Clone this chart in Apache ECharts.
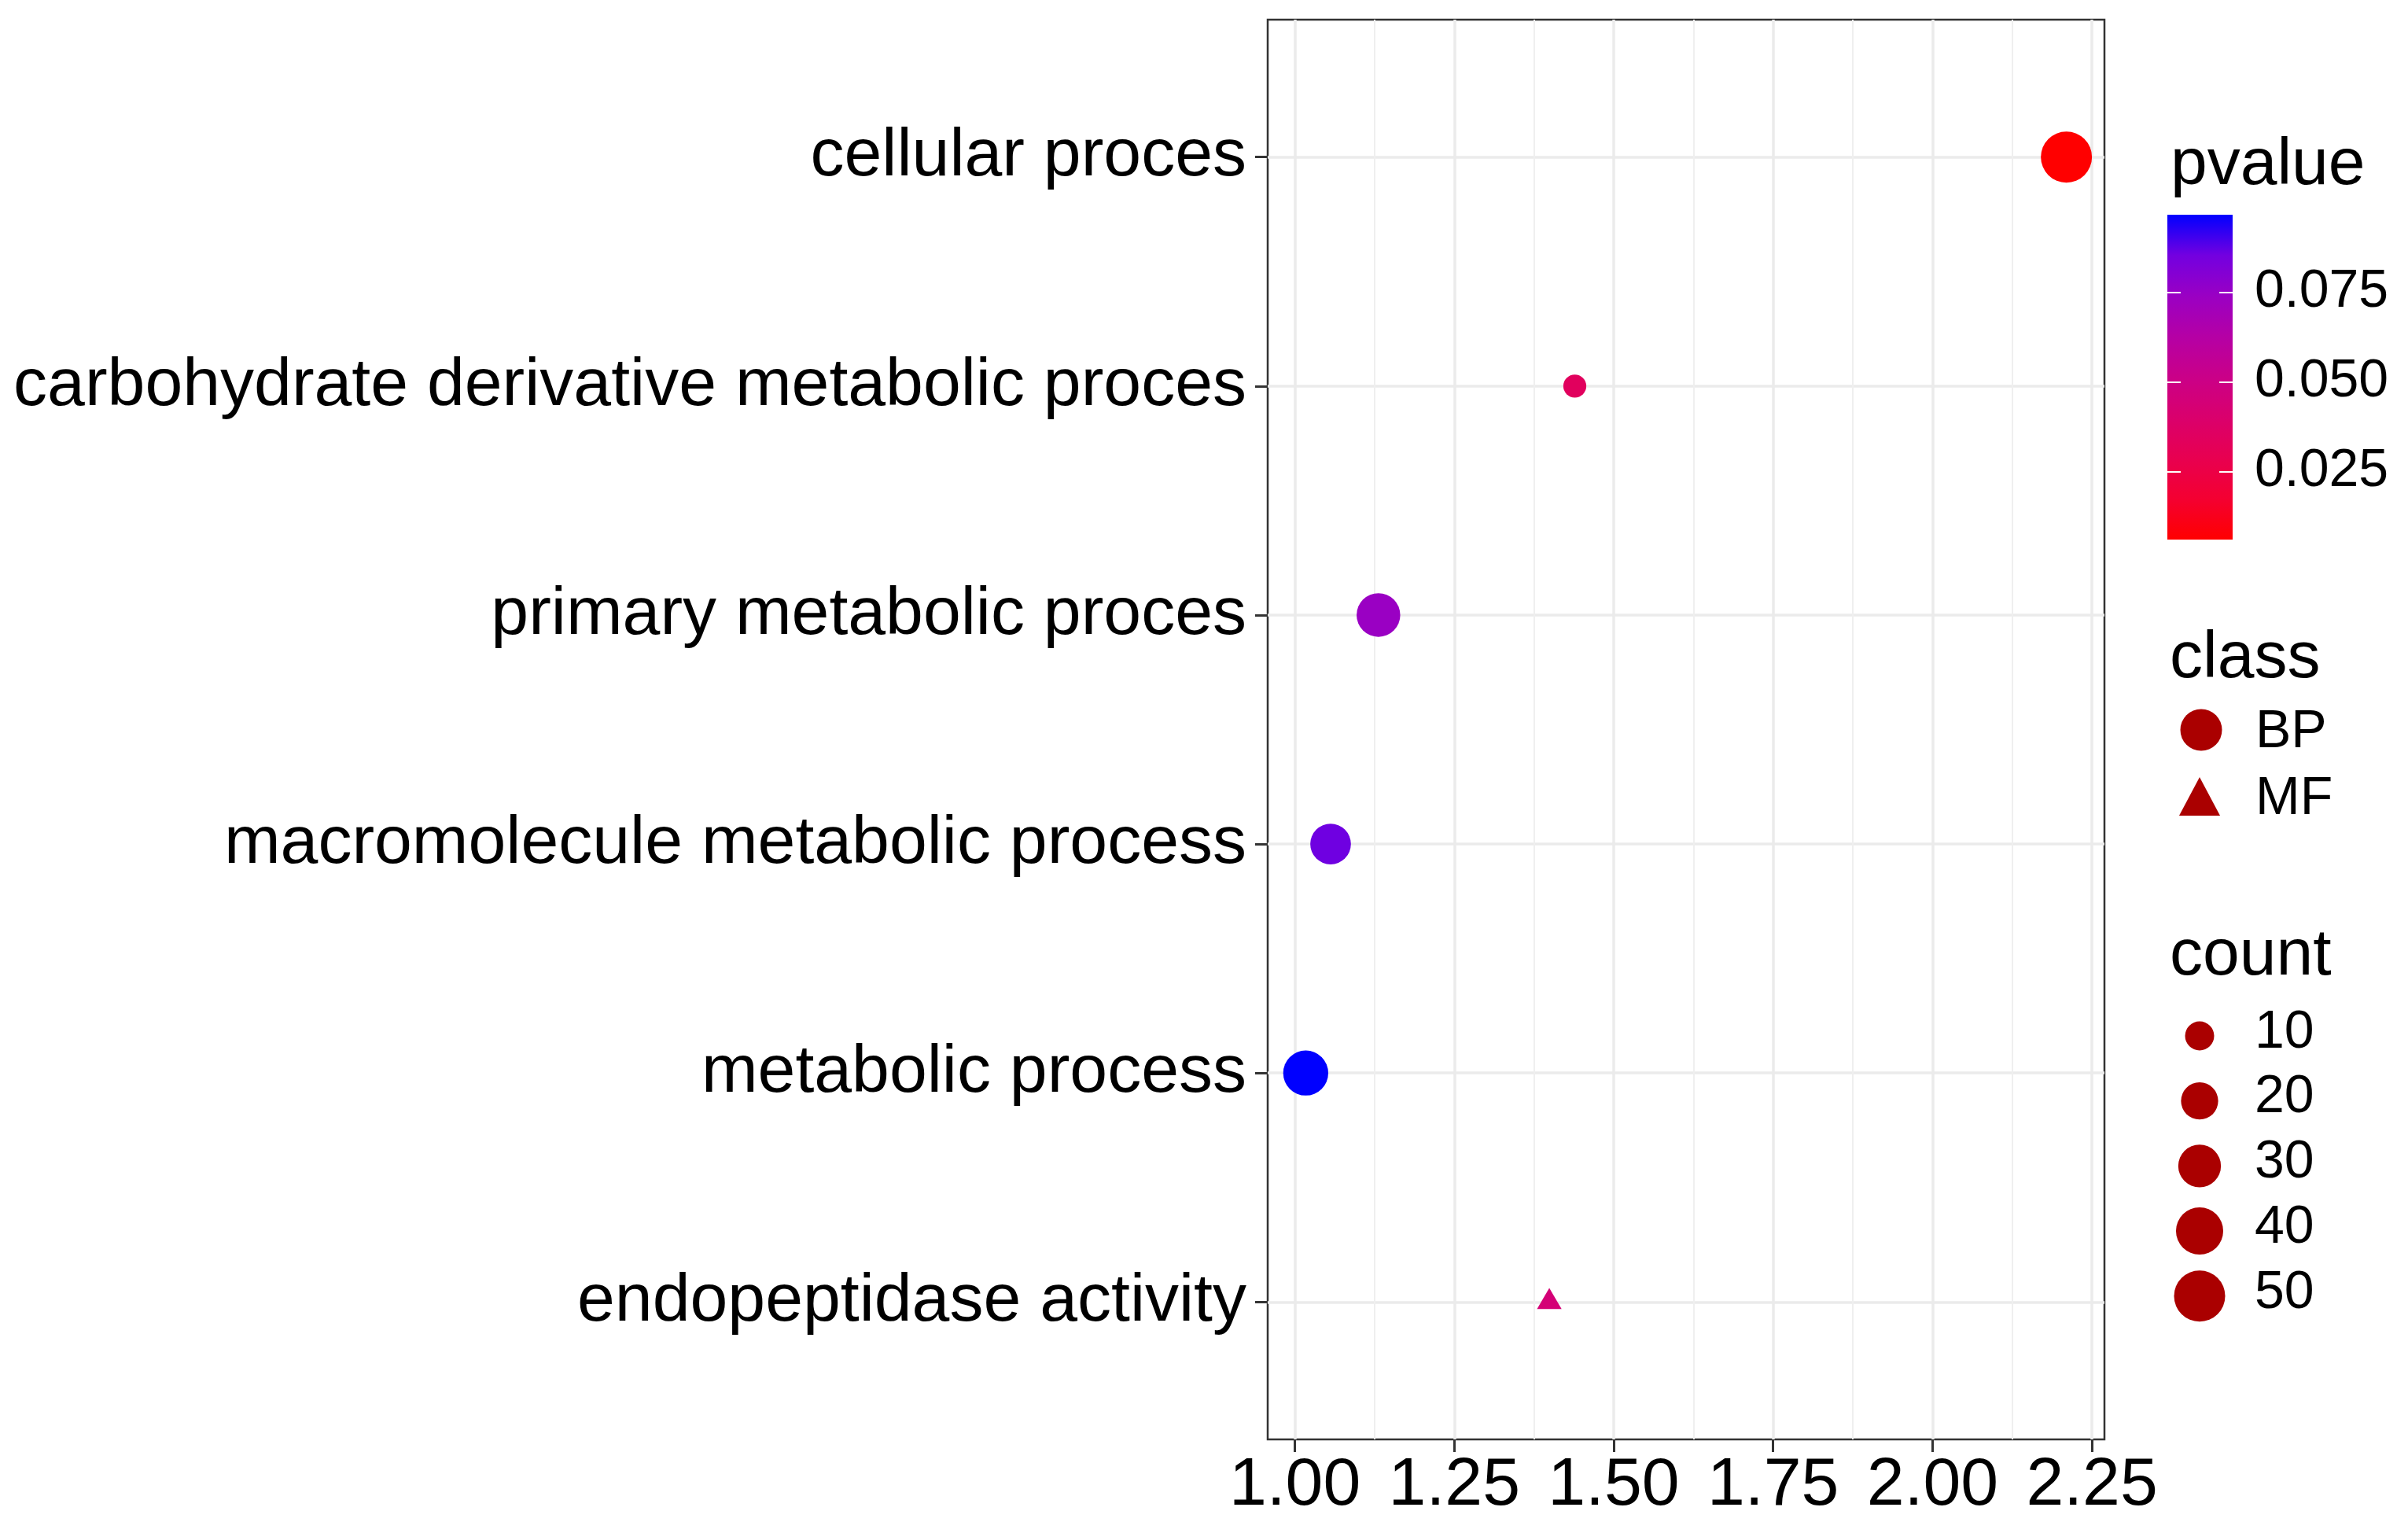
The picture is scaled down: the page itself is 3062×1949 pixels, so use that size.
<!DOCTYPE html>
<html><head><meta charset="utf-8">
<script src="https://cdn.jsdelivr.net/npm/echarts@6/dist/echarts.min.js"></script>
<style>html,body{margin:0;padding:0;background:#fff}#c{width:3062px;height:1949px}</style>
</head><body><div id="c"></div>
<script>
// ---- data ----
const categories = ['cellular proces','carbohydrate derivative metabolic proces','primary metabolic proces','macromolecule metabolic process','metabolic process','endopeptidase activity'];
const classes = ['BP','BP','BP','BP','BP','MF'];
const richFactor = [2.210, 1.439, 1.131, 1.056, 1.017, 1.399];
const counts = [50, 6, 32, 26, 35, 5];
const pvalues = [0.0060, 0.034, 0.074, 0.0857, 0.0966, 0.044];
const xTicks = [1.00, 1.25, 1.50, 1.75, 2.00, 2.25];
const xMinorTicks = [1.125, 1.375, 1.625, 1.875, 2.125];
const pTicks = [0.025, 0.050, 0.075];
const countBreaks = [10, 20, 30, 40, 50];
const classKeys = ['BP', 'MF'];

// ---- scales ----
const FONT = 'Liberation Sans';
const xLo = Math.min(...richFactor), xHi = Math.max(...richFactor);
const xMin = xLo - 0.05 * (xHi - xLo), xMax = xHi + 0.05 * (xHi - xLo);
const pMin = Math.min(...pvalues), pMax = Math.max(...pvalues);
const cMin = Math.min(...counts), cMax = Math.max(...counts);
const D_MIN = 23, D_MAX = 65;
function diam(c) { const t = Math.max(0, (c - cMin) / (cMax - cMin)); return D_MIN + (D_MAX - D_MIN) * Math.sqrt(t); }
// red -> blue gradient (CIELAB-like interpolation, sampled)
const gradColors = ['#FF0000','#F40031','#E80050','#DA006C','#CA0088','#B500A5','#9A00C3','#7300E0','#0000FF'];
const keyColor = '#AA0000';

const bpData = [], mfData = [];
categories.forEach((name, i) => {
  const item = [richFactor[i], i, counts[i], pvalues[i], name];
  (classes[i] === 'BP' ? bpData : mfData).push(item);
});
const yIdx = categories.map((_, i) => i);

const chart = echarts.init(document.getElementById('c'), null, {renderer: 'canvas'});

const G = {left: 1612, top: 25, width: 1064, height: 1805};
const CB = {left: 2756, top: 273, width: 83, height: 413};

const graphics = [];
function txt(x, y, s, size) {
  graphics.push({type: 'text', x: x, y: y, style: {text: s, fontSize: size, fontFamily: FONT, fill: '#000', align: 'left', verticalAlign: 'middle', textAlign: 'left', textVerticalAlign: 'middle'}});
}
txt(2760, 211, 'pvalue', 84);
txt(2759, 838, 'class', 84);
txt(2759, 1216, 'count', 84);
// class keys
graphics.push({type: 'circle', shape: {cx: 2799, cy: 928, r: 26.5}, style: {fill: keyColor}});
txt(2868, 931, classKeys[0], 68);
graphics.push({type: 'polygon', shape: {points: [[2797, 988], [2771, 1037], [2823, 1037]]}, style: {fill: keyColor}});
txt(2868, 1016, classKeys[1], 68);
// count keys
countBreaks.forEach((b, k) => {
  const cy = 1317 + 82.7 * k;
  graphics.push({type: 'circle', shape: {cx: 2797, cy: cy, r: diam(b) / 2}, style: {fill: keyColor}});
  txt(2867, cy - 4, String(b), 68);
});

const gradient = new echarts.graphic.LinearGradient(0, 1, 0, 0,
  gradColors.map((c, i) => ({offset: i / (gradColors.length - 1), color: c})));

const option = {
  animation: false,
  backgroundColor: '#ffffff',
  textStyle: {fontFamily: FONT},
  grid: [
    Object.assign({show: true, borderColor: '#333333', borderWidth: 2.5, backgroundColor: '#ffffff', containLabel: false}, G),
    Object.assign({show: true, borderWidth: 0, backgroundColor: gradient, containLabel: false}, CB)
  ],
  xAxis: [
    {type: 'value', gridIndex: 0, min: xMin, max: xMax, position: 'bottom',
     axisLine: {show: false, onZero: false},
     axisTick: {show: true, length: 16, lineStyle: {color: '#333333', width: 3}, customValues: xTicks},
     axisLabel: {show: true, customValues: xTicks, formatter: v => Number(v).toFixed(2), fontSize: 86, color: '#000', margin: 16, fontFamily: FONT},
     splitLine: {show: true, lineStyle: {color: '#EBEBEB', width: 3.5}}},
    {type: 'value', gridIndex: 0, min: xMin, max: xMax, position: 'top',
     axisLine: {show: false, onZero: false}, axisTick: {show: false, customValues: xMinorTicks}, axisLabel: {show: false, customValues: xMinorTicks},
     splitLine: {show: true, lineStyle: {color: '#EFEFEF', width: 2}}},
    {type: 'value', gridIndex: 1, show: false, min: 0, max: 1, axisLine: {onZero: false}}
  ],
  yAxis: [
    {type: 'value', gridIndex: 0, inverse: true, min: -0.6, max: 5.6,
     axisLine: {show: false, onZero: false},
     axisTick: {show: true, length: 16, lineStyle: {color: '#333333', width: 3}, customValues: yIdx},
     axisLabel: {show: true, customValues: yIdx, formatter: v => categories[Math.round(v)], fontSize: 86, color: '#000', margin: 27, padding: [8, 0, 0, 0], fontFamily: FONT},
     splitLine: {show: true, lineStyle: {color: '#EBEBEB', width: 3.5}}},
    {type: 'value', gridIndex: 1, min: pMin, max: pMax, position: 'right',
     axisLine: {show: false, onZero: false},
     axisTick: {show: true, inside: true, length: 17, lineStyle: {color: '#ffffff', width: 2}, customValues: pTicks},
     axisLabel: {show: true, customValues: pTicks, formatter: v => Number(v).toFixed(3), fontSize: 68, color: '#000', margin: 28, fontFamily: FONT},
     splitLine: {show: false}},
    {type: 'value', gridIndex: 1, min: pMin, max: pMax, position: 'left',
     axisLine: {show: false, onZero: false},
     axisTick: {show: true, inside: true, length: 17, lineStyle: {color: '#ffffff', width: 2}, customValues: pTicks},
     axisLabel: {show: false, customValues: pTicks},
     splitLine: {show: false}}
  ],
  visualMap: {type: 'continuous', show: false, seriesIndex: [0, 1], dimension: 3, min: pMin, max: pMax, inRange: {color: gradColors}},
  series: [
    {type: 'scatter', name: 'BP', xAxisIndex: 0, yAxisIndex: 0, data: bpData, symbol: 'circle',
     symbolSize: v => diam(v[2]), itemStyle: {opacity: 1}, emphasis: {disabled: true}, z: 5},
    {type: 'scatter', name: 'MF', xAxisIndex: 0, yAxisIndex: 0, data: mfData, symbol: 'triangle',
     symbolSize: v => { const d = diam(v[2]); return [d * 1.36, d * 1.16]; }, symbolOffset: [0, '-16.7%'],
     itemStyle: {opacity: 1}, emphasis: {disabled: true}, z: 5}
  ],
  graphic: graphics
};
chart.setOption(option);
</script></body></html>
